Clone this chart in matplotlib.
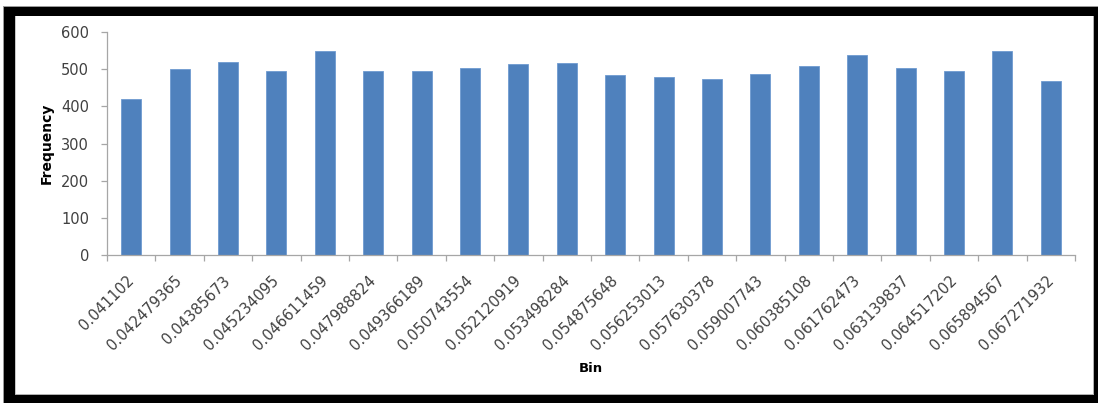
import matplotlib
matplotlib.use("Agg")
import matplotlib.pyplot as plt
from matplotlib.patches import Rectangle
from matplotlib.transforms import ScaledTranslation

# Histogram bins and their counts
bins = ["0.041102", "0.042479365", "0.04385673", "0.045234095", "0.046611459",
        "0.047988824", "0.049366189", "0.050743554", "0.052120919", "0.053498284",
        "0.054875648", "0.056253013", "0.057630378", "0.059007743", "0.060385108",
        "0.061762473", "0.063139837", "0.064517202", "0.065894567", "0.067271932"]
frequency = [420, 501, 519, 496, 549, 496, 496, 502, 514, 516,
             485, 479, 473, 488, 508, 538, 504, 495, 549, 469]
y_ticks = [0, 100, 200, 300, 400, 500, 600]

W, H = 1098, 403
fig = plt.figure(figsize=(W / 100, H / 100), dpi=100)
fig.patch.set_facecolor("white")

# Plot area in pixel terms
x0, x1 = 107, 1075
y_top, y_bot = 32, 255
ax = fig.add_axes([x0 / W, 1 - y_bot / H, (x1 - x0) / W, (y_bot - y_top) / H])

bar_color = "#4F81BD"
axis_gray = "#A6A6A6"
text_color = "#404040"

pos = list(range(len(bins)))
ax.bar(pos, frequency, width=0.41, color=bar_color, edgecolor="#6F9AD0",
       linewidth=0.6, zorder=2)

ax.set_xlim(-0.5, len(bins) - 0.5)
ax.set_ylim(0, 600)
ax.set_yticks(y_ticks)
ax.set_yticklabels([str(v) for v in y_ticks], fontsize=10.5, color=text_color,
                   family="DejaVu Sans")

# Category labels sit under each bar; tick marks fall on the bin boundaries
ax.set_xticks(pos)
ax.set_xticklabels(bins, rotation=45, ha="right", rotation_mode="anchor",
                   fontsize=10.6, color=text_color, family="DejaVu Sans")
ax.tick_params(axis="x", which="major", length=0, pad=13)
shift = ScaledTranslation(-5 / 100, 0, fig.dpi_scale_trans)
for lbl in ax.get_xticklabels():
    lbl.set_transform(lbl.get_transform() + shift)
ax.set_xticks([p - 0.5 for p in pos] + [len(bins) - 0.5], minor=True)
ax.tick_params(axis="x", which="minor", length=4, color=axis_gray, width=0.9)
ax.tick_params(axis="y", length=4, color=axis_gray, width=0.9, pad=9)

for side in ("top", "right"):
    ax.spines[side].set_visible(False)
for side in ("left", "bottom"):
    ax.spines[side].set_color(axis_gray)
    ax.spines[side].set_linewidth(0.9)

ax.set_ylabel("Frequency", fontsize=10, fontweight="bold", color="black",
              family="DejaVu Sans", labelpad=8)
ax.yaxis.set_label_coords(-(107 - 46.5) / (x1 - x0), 0.5, transform=ax.transAxes)
ax.set_xlabel("Bin", fontsize=9.5, fontweight="bold", color="black",
              family="DejaVu Sans")
ax.xaxis.set_label_coords(0.5, -(368 - y_bot) / (y_bot - y_top), transform=ax.transAxes)
ax.xaxis.label.set_verticalalignment("center")
ax.yaxis.label.set_verticalalignment("center")


def band(px_left, px_top, px_right, px_bottom, color):
    fig.patches.append(Rectangle((px_left / W, 1 - px_bottom / H),
                                 (px_right - px_left) / W, (px_bottom - px_top) / H,
                                 transform=fig.transFigure, facecolor=color,
                                 edgecolor="none", zorder=10))


# Thin gray outline followed by the thick black frame
band(3, 6, W, 7, "#9A9A9A")
band(3, 6, 4, H, "#9A9A9A")
band(4, 7, W, 16, "black")
band(4, 7, 15, H, "black")
band(4, 395, W, H, "black")
band(1094, 7, W, H, "black")
band(15, 16, 16, 395, "#C8C8C8")
band(1093, 16, 1094, 395, "#B0B0B0")
band(15, 394, 1094, 395, "#B0B0B0")

fig.savefig("out.png", dpi=100, facecolor="white")
